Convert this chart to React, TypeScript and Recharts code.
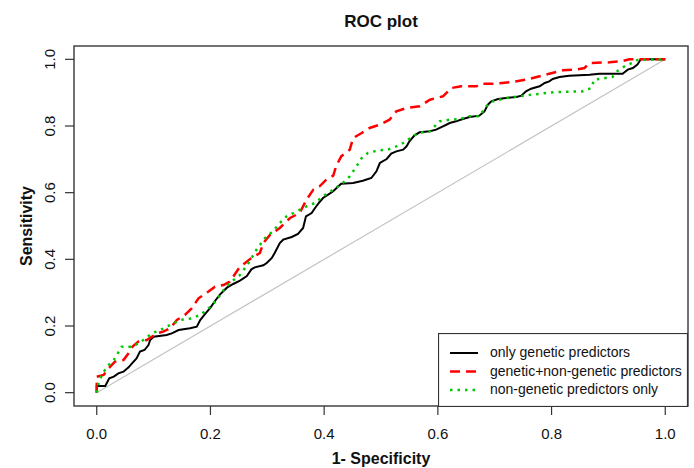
import React from 'react';
import {
  LineChart,
  Line,
  XAxis,
  YAxis,
  Legend,
  Label,
  ReferenceArea,
} from 'recharts';

// ROC points, [1 - specificity, sensitivity]
const geneticOnly: number[][] = [
  [0, 0], [0, 0.02], [0.015, 0.02], [0.022, 0.043], [0.03, 0.048], [0.038, 0.058],
  [0.047, 0.063], [0.056, 0.076], [0.062, 0.088], [0.07, 0.103], [0.076, 0.123],
  [0.084, 0.128], [0.091, 0.143], [0.094, 0.158], [0.1, 0.168], [0.123, 0.173],
  [0.132, 0.178], [0.144, 0.188], [0.164, 0.193], [0.176, 0.198], [0.182, 0.218],
  [0.19, 0.235], [0.2, 0.255], [0.208, 0.275], [0.217, 0.295], [0.229, 0.315],
  [0.24, 0.326], [0.252, 0.336], [0.264, 0.35], [0.272, 0.37], [0.278, 0.376],
  [0.293, 0.382], [0.299, 0.389], [0.308, 0.404], [0.313, 0.419], [0.322, 0.449],
  [0.328, 0.459], [0.343, 0.467], [0.354, 0.476], [0.363, 0.494], [0.368, 0.529],
  [0.378, 0.539], [0.384, 0.554], [0.392, 0.572], [0.398, 0.584], [0.407, 0.594],
  [0.416, 0.604], [0.425, 0.619], [0.43, 0.627], [0.451, 0.629], [0.468, 0.636],
  [0.483, 0.644], [0.492, 0.664], [0.498, 0.689], [0.51, 0.701], [0.518, 0.717],
  [0.527, 0.724], [0.539, 0.729], [0.545, 0.739], [0.55, 0.754], [0.559, 0.772],
  [0.568, 0.781], [0.586, 0.784], [0.597, 0.789], [0.609, 0.799], [0.621, 0.809],
  [0.632, 0.814], [0.644, 0.821], [0.656, 0.827], [0.673, 0.831], [0.682, 0.844],
  [0.688, 0.864], [0.694, 0.874], [0.706, 0.881], [0.72, 0.884], [0.738, 0.887],
  [0.747, 0.891], [0.755, 0.904], [0.764, 0.912], [0.779, 0.919], [0.788, 0.929],
  [0.796, 0.934], [0.802, 0.941], [0.814, 0.947], [0.831, 0.951], [0.867, 0.954],
  [0.884, 0.957], [0.925, 0.957], [0.934, 0.969], [0.943, 0.974], [0.951, 0.984],
  [0.957, 1], [1, 1],
];

const geneticPlusNonGenetic: number[][] = [
  [0, 0], [0, 0.048], [0.012, 0.053], [0.021, 0.073], [0.032, 0.093], [0.047, 0.098],
  [0.056, 0.118], [0.063, 0.138], [0.073, 0.153], [0.088, 0.158], [0.106, 0.178],
  [0.117, 0.183], [0.129, 0.193], [0.141, 0.218], [0.155, 0.233], [0.167, 0.253],
  [0.179, 0.283], [0.196, 0.303], [0.208, 0.318], [0.223, 0.323], [0.234, 0.333],
  [0.252, 0.378], [0.261, 0.389], [0.272, 0.404], [0.287, 0.419], [0.293, 0.449],
  [0.305, 0.474], [0.322, 0.494], [0.34, 0.524], [0.357, 0.539], [0.369, 0.579],
  [0.381, 0.609], [0.392, 0.619], [0.404, 0.639], [0.416, 0.651], [0.421, 0.679],
  [0.43, 0.709], [0.445, 0.729], [0.451, 0.764], [0.466, 0.779], [0.48, 0.794],
  [0.498, 0.804], [0.515, 0.819], [0.527, 0.844], [0.545, 0.854], [0.568, 0.859],
  [0.586, 0.879], [0.609, 0.889], [0.618, 0.904], [0.624, 0.914], [0.641, 0.919],
  [0.668, 0.919], [0.676, 0.927], [0.703, 0.927], [0.726, 0.931], [0.755, 0.939],
  [0.779, 0.949], [0.796, 0.957], [0.82, 0.967], [0.843, 0.969], [0.858, 0.974],
  [0.867, 0.989], [0.902, 0.991], [0.922, 0.994], [0.937, 1], [1, 1],
];

const nonGeneticOnly: number[][] = [
  [0, 0], [0.003, 0.028], [0.009, 0.053], [0.018, 0.078], [0.03, 0.098], [0.044, 0.138],
  [0.062, 0.138], [0.073, 0.148], [0.082, 0.158], [0.097, 0.178], [0.112, 0.188],
  [0.129, 0.203], [0.147, 0.218], [0.167, 0.223], [0.182, 0.233], [0.2, 0.258],
  [0.211, 0.278], [0.223, 0.308], [0.237, 0.333], [0.252, 0.353], [0.267, 0.389],
  [0.281, 0.429], [0.296, 0.464], [0.31, 0.484], [0.322, 0.509], [0.334, 0.529],
  [0.346, 0.539], [0.369, 0.559], [0.384, 0.569], [0.398, 0.589], [0.416, 0.609],
  [0.433, 0.629], [0.445, 0.649], [0.457, 0.679], [0.466, 0.704], [0.477, 0.719],
  [0.495, 0.727], [0.512, 0.729], [0.527, 0.739], [0.539, 0.749], [0.55, 0.762],
  [0.565, 0.779], [0.586, 0.784], [0.603, 0.814], [0.621, 0.819], [0.638, 0.821],
  [0.656, 0.829], [0.673, 0.829], [0.685, 0.859], [0.697, 0.874], [0.72, 0.884],
  [0.744, 0.889], [0.77, 0.895], [0.808, 0.902], [0.855, 0.904], [0.87, 0.914],
  [0.875, 0.939], [0.907, 0.947], [0.916, 0.965], [0.931, 0.982], [0.943, 0.99],
  [0.951, 0.998], [1, 1],
];

const chanceLine: number[][] = [[0, 0], [1, 1]];

const axisTicks = [0, 0.2, 0.4, 0.6, 0.8, 1.0];

const FONT = '"Liberation Sans", Arial, Helvetica, sans-serif';

const series = [
  { name: 'only genetic predictors', points: geneticOnly, color: '#000000', dash: undefined, width: 2 },
  { name: 'genetic+non-genetic predictors', points: geneticPlusNonGenetic, color: '#ff0000', dash: '10 6', width: 2.5 },
  { name: 'non-genetic predictors only', points: nonGeneticOnly, color: '#00c800', dash: '2.5 5', width: 2.5 },
];

const toXY = (pts: number[][]) => pts.map(([x, y]) => ({ x, y }));

function XTick(props: any) {
  const { x, y, payload } = props;
  return (
    <text x={x} y={y + 22} textAnchor="middle" fontSize={15} fontFamily={FONT} fill="#111">
      {payload.value.toFixed(1)}
    </text>
  );
}

function YTick(props: any) {
  const { x, y, payload } = props;
  const bx = x - 8;
  return (
    <text
      x={bx}
      y={y}
      transform={`rotate(-90, ${bx}, ${y})`}
      textAnchor="middle"
      fontSize={15}
      fontFamily={FONT}
      fill="#111"
    >
      {payload.value.toFixed(1)}
    </text>
  );
}

function RocLegend() {
  const rows = [20, 38.5, 57];
  return (
    <svg width={250} height={74} style={{ display: 'block' }}>
      <rect x={0.5} y={0.5} width={249} height={73} fill="#fff" stroke="#333" strokeWidth={1.2} />
      {series.map((s, i) => (
        <g key={s.name}>
          <line
            x1={12}
            x2={40}
            y1={rows[i]}
            y2={rows[i]}
            stroke={s.color}
            strokeWidth={s.width}
            strokeDasharray={s.dash}
          />
          <text x={52} y={rows[i] + 4} fontSize={14} fontFamily={FONT} fill="#111">
            {s.name}
          </text>
        </g>
      ))}
    </svg>
  );
}

export default function App() {
  return (
    <div
      style={{
        position: 'absolute',
        left: 0,
        top: 0,
        width: 694,
        height: 468,
        background: '#fff',
        fontFamily: FONT,
      }}
    >
      <div
        style={{
          position: 'absolute',
          left: 281,
          top: 13,
          width: 200,
          textAlign: 'center',
          fontSize: 17,
          lineHeight: 1,
          fontWeight: 'bold',
          color: '#111',
        }}
      >
        ROC plot
      </div>
      <LineChart
        width={694}
        height={468}
        margin={{ top: 46, right: 6, bottom: 0, left: 0 }}
      >
        <XAxis
          type="number"
          dataKey="x"
          domain={[-0.04, 1.04]}
          ticks={axisTicks}
          allowDataOverflow
          height={62}
          axisLine={false}
          tickSize={9}
          tickLine={{ stroke: '#333', strokeWidth: 1.2 }}
          tick={<XTick />}
        >
          <Label
            content={(p: any) => {
              const vb = p.viewBox;
              return (
                <text
                  x={vb.x + vb.width / 2}
                  y={vb.y + 58}
                  textAnchor="middle"
                  fontSize={16}
                  fontWeight="bold"
                  fontFamily={FONT}
                  fill="#111"
                >
                  1- Specificity
                </text>
              );
            }}
          />
        </XAxis>
        <YAxis
          type="number"
          dataKey="y"
          domain={[-0.04, 1.04]}
          ticks={axisTicks}
          allowDataOverflow
          width={74}
          axisLine={false}
          tickSize={9}
          tickLine={{ stroke: '#333', strokeWidth: 1.2 }}
          tick={<YTick />}
        >
          <Label
            content={(p: any) => {
              const vb = p.viewBox;
              const cx = 32;
              const cy = vb.y + vb.height / 2;
              return (
                <text
                  x={cx}
                  y={cy}
                  transform={`rotate(-90, ${cx}, ${cy})`}
                  textAnchor="middle"
                  fontSize={16}
                  fontWeight="bold"
                  fontFamily={FONT}
                  fill="#111"
                >
                  Sensitivity
                </text>
              );
            }}
          />
        </YAxis>
        <Line
          data={toXY(chanceLine)}
          dataKey="y"
          type="linear"
          stroke="#c4c4c4"
          strokeWidth={1.2}
          dot={false}
          activeDot={false}
          legendType="none"
          isAnimationActive={false}
        />
        {series.map(s => (
          <Line
            key={s.name}
            name={s.name}
            data={toXY(s.points)}
            dataKey="y"
            type="linear"
            stroke={s.color}
            strokeWidth={s.width}
            strokeDasharray={s.dash}
            dot={false}
            activeDot={false}
            isAnimationActive={false}
          />
        ))}
        <ReferenceArea
          x1={-0.04}
          x2={1.04}
          y1={-0.04}
          y2={1.04}
          fill="none"
          stroke="#444"
          strokeWidth={1.5}
          ifOverflow="visible"
        />
        <Legend
          layout="vertical"
          verticalAlign="middle"
          align="center"
          wrapperStyle={{ left: 438, top: 333, width: 250, height: 74 }}
          content={() => <RocLegend />}
        />
      </LineChart>
    </div>
  );
}
